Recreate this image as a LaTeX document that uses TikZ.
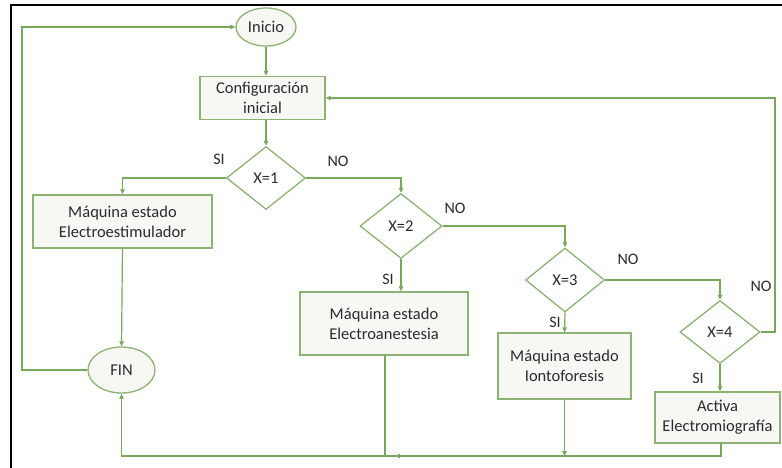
\documentclass[tikz,border=0pt]{standalone}
\usepackage{fontspec}
\setmainfont{Carlito}
\usetikzlibrary{shapes.geometric,arrows.meta}
\definecolor{flowline}{HTML}{78A85C}
\definecolor{boxedge}{HTML}{8DB274}
\definecolor{boxfill}{HTML}{F7F8F4}
\definecolor{ink}{HTML}{2B2B2B}
\tikzset{
  base/.style={draw=boxedge, line width=1.3pt, fill=boxfill, text=ink, font=\fontsize{16.5}{20}\selectfont, align=center, inner sep=0pt},
  procbox/.style={base, rectangle},
  termbox/.style={base, ellipse},
  decbox/.style={base, diamond, fill=white},
  flow/.style={draw=flowline, line width=1.2pt},
  arr/.style={flow, -{Triangle[length=5pt,width=4.5pt]}},
  lbl/.style={text=ink, font=\fontsize{16}{18}\selectfont, inner sep=0pt}
}
\begin{document}
\begin{tikzpicture}[x=1pt,y=-1pt]
\useasboundingbox (0,0) rectangle (782,468);
\fill[white] (0,0) rectangle (782,468);
% outer frame
\draw[black, line width=1.8pt] (11,475) -- (11,5) -- (790,5);

% nodes
\node[termbox, minimum width=60pt, minimum height=38pt] (inicio) at (266,27) {Inicio};
\node[procbox, minimum width=125pt, minimum height=43pt] (config) at (262.5,98) {Configuración\\inicial};
\node[decbox, minimum width=79pt, minimum height=63pt] (d1) at (266,178) {X=1};
\node[procbox, minimum width=179pt, minimum height=53pt] (m1) at (122.5,221.5) {Máquina estado\\Electroestimulador};
\node[termbox, minimum width=67pt, minimum height=46pt] (fin) at (121.5,370) {FIN};
\node[decbox, minimum width=82pt, minimum height=65pt] (d2) at (401,226) {X=2};
\node[procbox, minimum width=168pt, minimum height=63pt] (m2) at (384,323.5) {Máquina estado\\Electroanestesia};
\node[decbox, minimum width=79pt, minimum height=64pt] (d3) at (565,280) {X=3};
\node[procbox, minimum width=133pt, minimum height=66pt] (m3) at (564.5,366) {Máquina estado\\Iontoforesis};
\node[decbox, minimum width=80pt, minimum height=63pt] (d4) at (720,332) {X=4};
\node[procbox, minimum width=125pt, minimum height=51pt] (m4) at (717.5,417.5) {Activa\\Electromiografía};

% helper points
\coordinate (lc) at (22,27);
\coordinate (rc) at (775,98);
\coordinate (bot) at (0,456);
\coordinate (m4out) at (721,443);
\coordinate (m2out) at (385,355);
\coordinate (m2join) at (403,456);

% connectors
\draw[arr] (inicio.south) -- (inicio.south |- config.north);
\draw[arr] (d1.north |- config.south) -- (d1.north);
\draw[arr] (d1.west) -| (m1.north);
\draw[arr] (m1.south) -- (fin.north);
\draw[arr] (fin.west) -- (fin.west -| lc) -- (lc) -- (inicio.west);
\draw[arr] (d1.east) -| (d2.north);
\draw[arr] (d2.south) -- (d2.south |- m2.north);
\draw[arr] (d2.east) -| (d3.north);
\draw[arr] (d3.south) -- (m3.north);
\draw[arr] (d3.east) -| (d4.north);
\draw[arr] (d4.east) -- (d4.east -| rc) -- (rc) -- (config.east);
\draw[arr] (d4.south) -- (d4.south |- m4.north);
\draw[arr] (m4out) -- (m4out |- bot) -- (fin.south |- bot) -- (fin.south);
\draw[arr] (m3.south) -- (m3.south |- bot);
\draw[arr] (m2out) -- (m2out |- bot) -- (m2join);

% branch labels
\node[lbl] (s1) at (219,159) {SI};
\node[lbl] (n1) at (338,161) {NO};
\node[lbl] (n2) at (455,208) {NO};
\node[lbl] (s2) at (388,279) {SI};
\node[lbl] (n3) at (628,259) {NO};
\node[lbl] (s3) at (555,322) {SI};
\node[lbl] (n4) at (761,286) {NO};
\node[lbl] (s4) at (698,378) {SI};
\end{tikzpicture}
\end{document}
